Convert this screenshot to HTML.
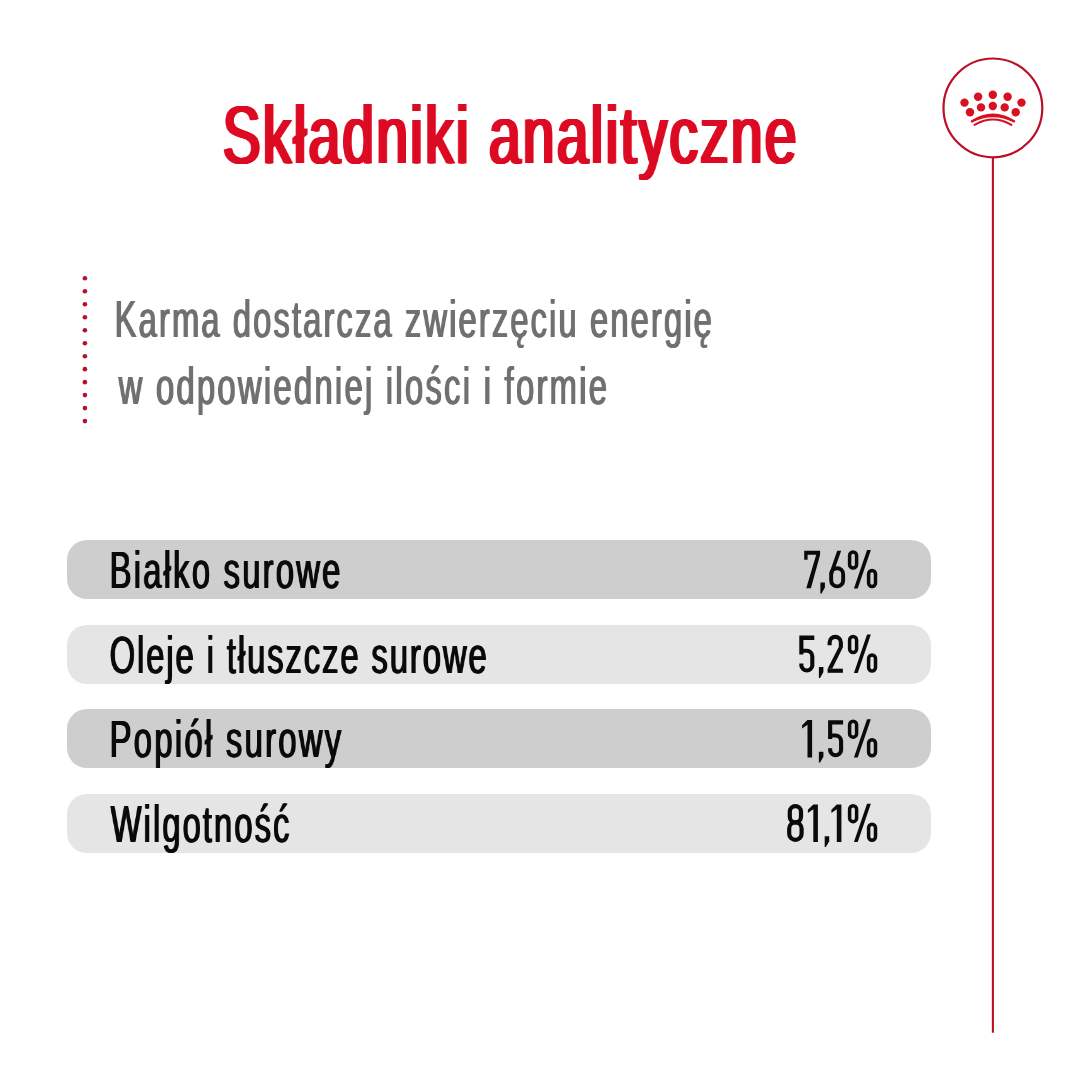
<!DOCTYPE html>
<html>
<head>
<meta charset="utf-8">
<style>
html,body{margin:0;padding:0;background:#fff;}
body{width:1080px;height:1080px;position:relative;overflow:hidden;font-family:"Liberation Sans",sans-serif;}
.t{position:absolute;white-space:nowrap;line-height:1;transform-origin:0 0;will-change:transform;}
.title{color:#dc0a22;text-shadow:1px 0 currentColor,2px 0 currentColor,3px 0 currentColor,4px 0 currentColor,5px 0 currentColor;}
.sub{color:#707070;text-shadow:1px 0 currentColor,2px 0 currentColor;}
.lbl{color:#0a0a0a;text-shadow:1px 0 currentColor,2px 0 currentColor;}
.row{position:absolute;left:67.4px;width:863.8px;height:59px;border-radius:20px;}
.dark{background:#cecece;}
.light{background:#e5e5e5;}
</style>
</head>
<body>
<div class="row dark" style="top:540px;"></div>
<div class="row light" style="top:624.6px;"></div>
<div class="row dark" style="top:709.2px;"></div>
<div class="row light" style="top:794px;"></div>
<div class="t title" style="left:220.80px;top:94.0px;font-size:82px;transform:scaleX(0.6900);letter-spacing:3.507px;">Składniki analityczne</div>
<div class="t sub" style="left:114.20px;top:293.0px;font-size:52px;transform:scaleX(0.6300);letter-spacing:3.327px;">Karma dostarcza zwierzęciu energię</div>
<div class="t sub" style="left:118.00px;top:360.0px;font-size:52px;transform:scaleX(0.6300);letter-spacing:3.607px;">w odpowiedniej ilości i formie</div>
<div class="t lbl" style="left:109.30px;top:544.0px;font-size:52px;transform:scaleX(0.6300);letter-spacing:3.539px;">Białko surowe</div>
<div class="t lbl" style="left:109.10px;top:628.61px;font-size:52px;transform:scaleX(0.6300);letter-spacing:3.029px;">Oleje i tłuszcze surowe</div>
<div class="t lbl" style="left:108.70px;top:713.21px;font-size:52px;transform:scaleX(0.6300);letter-spacing:3.645px;">Popiół surowy</div>
<div class="t lbl" style="left:110.10px;top:797.8px;font-size:52px;transform:scaleX(0.6300);letter-spacing:3.268px;">Wilgotność</div>
<svg style="position:absolute;left:0;top:0;" width="1080" height="1080" viewBox="0 0 1080 1080">

<circle cx="992.9" cy="107.9" r="49.4" fill="none" stroke="#bc0e26" stroke-width="2.2"/>
<line x1="992.9" y1="157" x2="992.9" y2="1032.8" stroke="#bc0e26" stroke-width="2.1"/>
<g fill="#d8101f"><circle cx="964.5" cy="102.6" r="4.2"/><circle cx="978.1" cy="96.7" r="4.2"/><circle cx="992.8" cy="94.8" r="4.2"/><circle cx="1007.6" cy="96.7" r="4.2"/><circle cx="1021.5" cy="102.6" r="4.2"/><circle cx="970.0" cy="112.3" r="4.2"/><circle cx="981.0" cy="107.4" r="4.2"/><circle cx="992.8" cy="106.0" r="4.2"/><circle cx="1004.7" cy="107.4" r="4.2"/><circle cx="1015.7" cy="112.3" r="4.2"/></g>
<path d="M971.8 121.2 Q993 107.9 1014.2 121.2 L1014.2 121.6 Q993 110.8 971.8 121.6 Z" fill="#d8101f" stroke="#d8101f" stroke-width="2" stroke-linejoin="round"/>
<path d="M974.6 124.9 Q993 114.3 1011.4 124.9" fill="none" stroke="#d8101f" stroke-width="2" stroke-linecap="round"/>
<g fill="#b80f2b"><circle cx="84.9" cy="278.30" r="2.3"/><circle cx="84.9" cy="291.28" r="2.3"/><circle cx="84.9" cy="304.26" r="2.3"/><circle cx="84.9" cy="317.24" r="2.3"/><circle cx="84.9" cy="330.22" r="2.3"/><circle cx="84.9" cy="343.20" r="2.3"/><circle cx="84.9" cy="356.18" r="2.3"/><circle cx="84.9" cy="369.16" r="2.3"/><circle cx="84.9" cy="382.14" r="2.3"/><circle cx="84.9" cy="395.12" r="2.3"/><circle cx="84.9" cy="408.10" r="2.3"/><circle cx="84.9" cy="421.08" r="2.3"/></g>

<g id="digits" fill="#0a0a0a"><g transform="translate(804.2 588.3)"><path d="M0 -37.5H15.9V-33.6L6.7 0H2.05L12 -33.6H3.4V-28.5H0Z"/></g><g transform="translate(820.4 588.3)"><path d="M0 -5.8H4.5V-0.8L1.2 5.1H0Z"/></g><g transform="translate(829.2 588.3)"><rect x="1.95" y="-20.1" width="12" height="18.2" rx="6" fill="none" stroke="#0a0a0a" stroke-width="3.9"/><path d="M8 -37.5H12L3.9 -14.5H0Z"/></g><g transform="translate(847.85 588.3)"><rect x="1.75" y="-36.25" width="7.0" height="15.9" rx="3.5" fill="none" stroke="#0a0a0a" stroke-width="3.5"/><rect x="20.75" y="-17.75" width="6.9" height="15.9" rx="3.45" fill="none" stroke="#0a0a0a" stroke-width="3.5"/><path d="M6.1 0.1H9.9L23 -38.3H19.2Z"/></g><g transform="translate(799.3 672.8)"><path d="M0 -37.2H15V-32.9H4.1V-18.4H0Z"/><path d="M2.05 -22H7.5A5.5 5.5 0 0 1 13 -16.5V-7.3A5.5 5.5 0 0 1 2.05 -7.3V-9.2" fill="none" stroke="#0a0a0a" stroke-width="4.1"/></g><g transform="translate(818.9 672.8)"><path d="M0 -5.8H4.5V-0.8L1.2 5.1H0Z"/></g><g transform="translate(827.6 672.8)"><path d="M2.05 -27.5V-30.35A5.6 5.6 0 0 1 13.25 -30.35V-25" fill="none" stroke="#0a0a0a" stroke-width="4.1"/><path d="M11 -25.5H15.3L4.6 -4.1H0Z"/><rect x="0" y="-4.1" width="15.3" height="4.1"/></g><g transform="translate(847.85 672.8)"><rect x="1.75" y="-36.25" width="7.0" height="15.9" rx="3.5" fill="none" stroke="#0a0a0a" stroke-width="3.5"/><rect x="20.75" y="-17.75" width="6.9" height="15.9" rx="3.45" fill="none" stroke="#0a0a0a" stroke-width="3.5"/><path d="M6.1 0.1H9.9L23 -38.3H19.2Z"/></g><g transform="translate(802.1 757.5)"><path d="M5.4 -37.4H10V0H5.4V-32.8L0 -29V-32.3Z"/></g><g transform="translate(818.9 757.5)"><path d="M0 -5.8H4.5V-0.8L1.2 5.1H0Z"/></g><g transform="translate(828.1 757.5)"><path d="M0 -37.2H15V-32.9H4.1V-18.4H0Z"/><path d="M2.05 -22H7.5A5.5 5.5 0 0 1 13 -16.5V-7.3A5.5 5.5 0 0 1 2.05 -7.3V-9.2" fill="none" stroke="#0a0a0a" stroke-width="4.1"/></g><g transform="translate(847.85 757.5)"><rect x="1.75" y="-36.25" width="7.0" height="15.9" rx="3.5" fill="none" stroke="#0a0a0a" stroke-width="3.5"/><rect x="20.75" y="-17.75" width="6.9" height="15.9" rx="3.45" fill="none" stroke="#0a0a0a" stroke-width="3.5"/><path d="M6.1 0.1H9.9L23 -38.3H19.2Z"/></g><g transform="translate(787.1 842.0)"><rect x="2.7" y="-35.9" width="11.2" height="16.3" rx="5.6" fill="none" stroke="#0a0a0a" stroke-width="4.2"/><rect x="2.1" y="-19.6" width="12.4" height="17.5" rx="6.2" fill="none" stroke="#0a0a0a" stroke-width="4.2"/></g><g transform="translate(807.9 842.0)"><path d="M5.4 -37.4H10V0H5.4V-32.8L0 -29V-32.3Z"/></g><g transform="translate(824.7 842.0)"><path d="M0 -5.8H4.5V-0.8L1.2 5.1H0Z"/></g><g transform="translate(831.4 842.0)"><path d="M5.4 -37.4H10V0H5.4V-32.8L0 -29V-32.3Z"/></g><g transform="translate(847.85 842.0)"><rect x="1.75" y="-36.25" width="7.0" height="15.9" rx="3.5" fill="none" stroke="#0a0a0a" stroke-width="3.5"/><rect x="20.75" y="-17.75" width="6.9" height="15.9" rx="3.45" fill="none" stroke="#0a0a0a" stroke-width="3.5"/><path d="M6.1 0.1H9.9L23 -38.3H19.2Z"/></g></g><!--/digits-->
</svg>
</body>
</html>
